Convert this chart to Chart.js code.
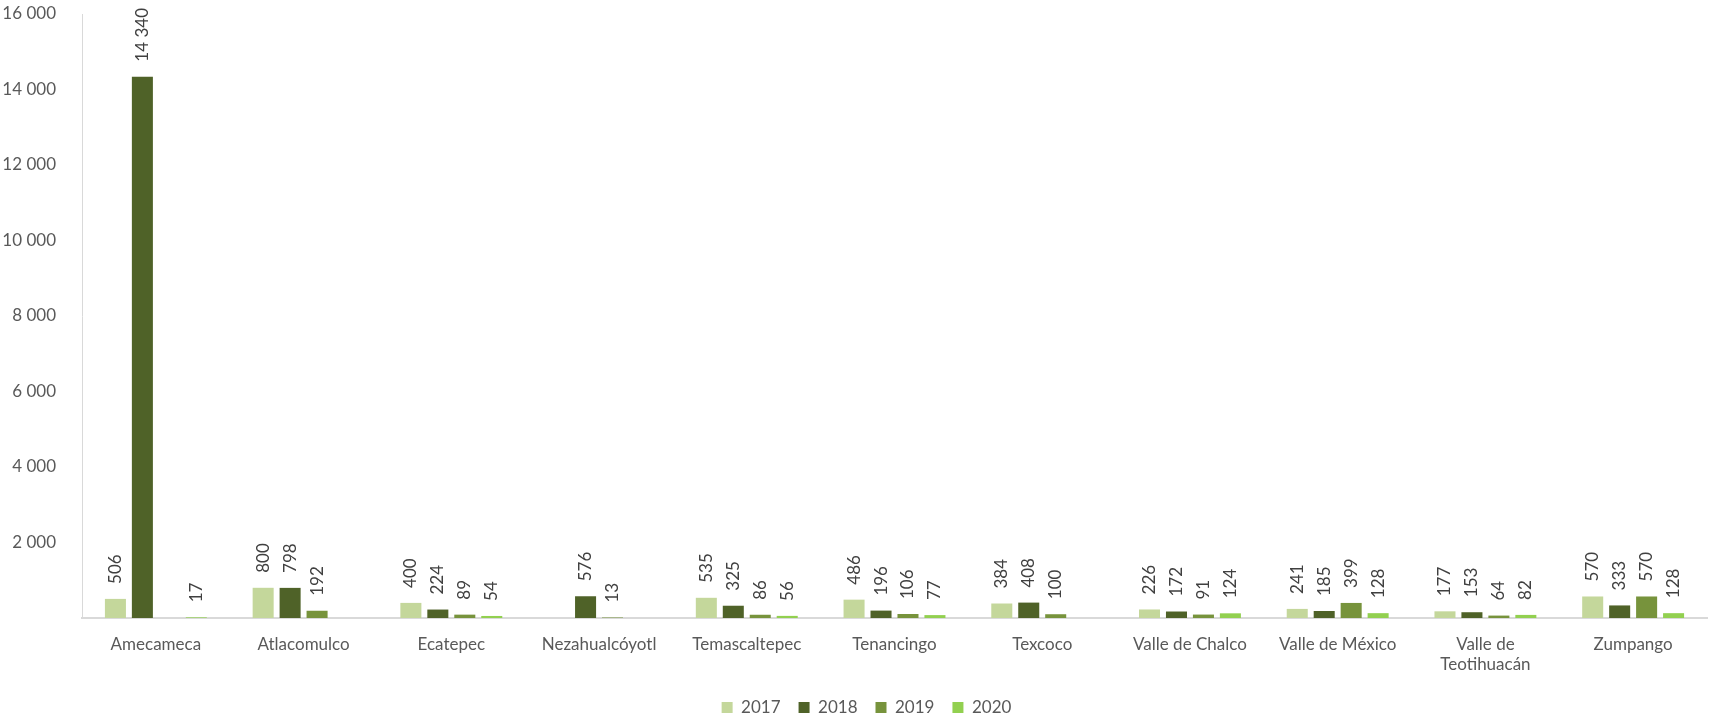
<!DOCTYPE html>
<html>
<head>
<meta charset="utf-8">
<script src="https://cdn.jsdelivr.net/npm/chart.js@4"></script>
<style>
  html, body { margin: 0; padding: 0; background: #fff; }
  #wrap { width: 1710px; height: 721px; }
</style>
</head>
<body>
<div id="wrap"><canvas id="chart" width="1710" height="721"></canvas></div>
<script>
// Chart data
const categories = ['Amecameca', 'Atlacomulco', 'Ecatepec', 'Nezahualcóyotl', 'Temascaltepec',
    'Tenancingo', 'Texcoco', 'Valle de Chalco', 'Valle de México', ['Valle de', 'Teotihuacán'], 'Zumpango'];
const years = ['2017', '2018', '2019', '2020'];
const values2017 = [506, 800, 400, null, 535, 486, 384, 226, 241, 177, 570];
const values2018 = [14340, 798, 224, 576, 325, 196, 408, 172, 185, 153, 333];
const values2019 = [null, 192, 89, 13, 86, 106, 100, 91, 399, 64, 570];
const values2020 = [17, null, 54, null, 56, 77, null, 124, 128, 82, 128];
const yTicks = [0, 2000, 4000, 6000, 8000, 10000, 12000, 14000, 16000];

const colors = ['#C4D79B', '#4F6228', '#77933C', '#92D050'];
const FONT = 'Lato';

function fmt(v) {
    return String(v).replace(/\B(?=(\d{3})+(?!\d))/g, ' ');
}

// rotated value labels above each bar
const barLabels = {
    id: 'barLabels',
    afterDatasetsDraw(chart) {
        const ctx = chart.ctx;
        ctx.save();
        ctx.font = '17px ' + FONT;
        ctx.fillStyle = '#404040';
        ctx.textAlign = 'left';
        ctx.textBaseline = 'middle';
        chart.data.datasets.forEach((ds, i) => {
            const meta = chart.getDatasetMeta(i);
            meta.data.forEach((bar, j) => {
                const v = ds.data[j];
                if (v === null || v === undefined) return;
                ctx.save();
                ctx.translate(bar.x, bar.y - 15);
                ctx.rotate(-Math.PI / 2);
                ctx.fillText(fmt(v), 0, 0);
                ctx.restore();
            });
        });
        ctx.restore();
    }
};

// small nudge of the legend to where it sits in the original
const legendShift = {
    id: 'legendShift',
    afterLayout(chart) {
        const l = chart.legend;
        l.top -= 3; l.bottom -= 3;
        l.left += 13; l.right += 13;
    }
};

const seriesValues = [values2017, values2018, values2019, values2020];

new Chart(document.getElementById('chart'), {
    type: 'bar',
    data: {
        labels: categories,
        datasets: years.map((y, i) => ({
            label: y,
            data: seriesValues[i],
            backgroundColor: colors[i],
            borderWidth: 0,
            categoryPercentage: 0.73,
            barPercentage: 0.78
        }))
    },
    options: {
        responsive: false,
        animation: false,
        layout: { padding: { top: 14, left: 0, right: 3, bottom: -8 } },
        plugins: {
            legend: {
                position: 'bottom',
                labels: {
                    color: '#595959',
                    font: { family: FONT, size: 17 },
                    boxWidth: 11,
                    boxHeight: 11,
                    padding: 18
                }
            },
            tooltip: { enabled: false }
        },
        scales: {
            x: {
                grid: { display: false },
                border: { display: true, color: '#D9D9D9', width: 2 },
                afterFit: (scale) => { scale.height = 66; },
                ticks: {
                    color: '#595959',
                    font: { family: FONT, size: 17 },
                    padding: 8,
                    maxRotation: 0,
                    autoSkip: false
                }
            },
            y: {
                min: 0,
                max: 16000,
                grid: { display: false },
                border: { display: true, color: '#D9D9D9', width: 1 },
                afterFit: (scale) => {
                    scale.width = 82;
                    // the tick padding would otherwise push the plot top down
                    scale.paddingTop = 0;
                    scale.paddingBottom = 0;
                },
                afterBuildTicks: (scale) => { scale.ticks = yTicks.map(v => ({ value: v })); },
                ticks: {
                    color: '#595959',
                    font: { family: FONT, size: 17 },
                    padding: 18,
                    callback: (v) => v === 0 ? '' : fmt(v)
                }
            }
        }
    },
    plugins: [barLabels, legendShift]
});
</script>
</body>
</html>
